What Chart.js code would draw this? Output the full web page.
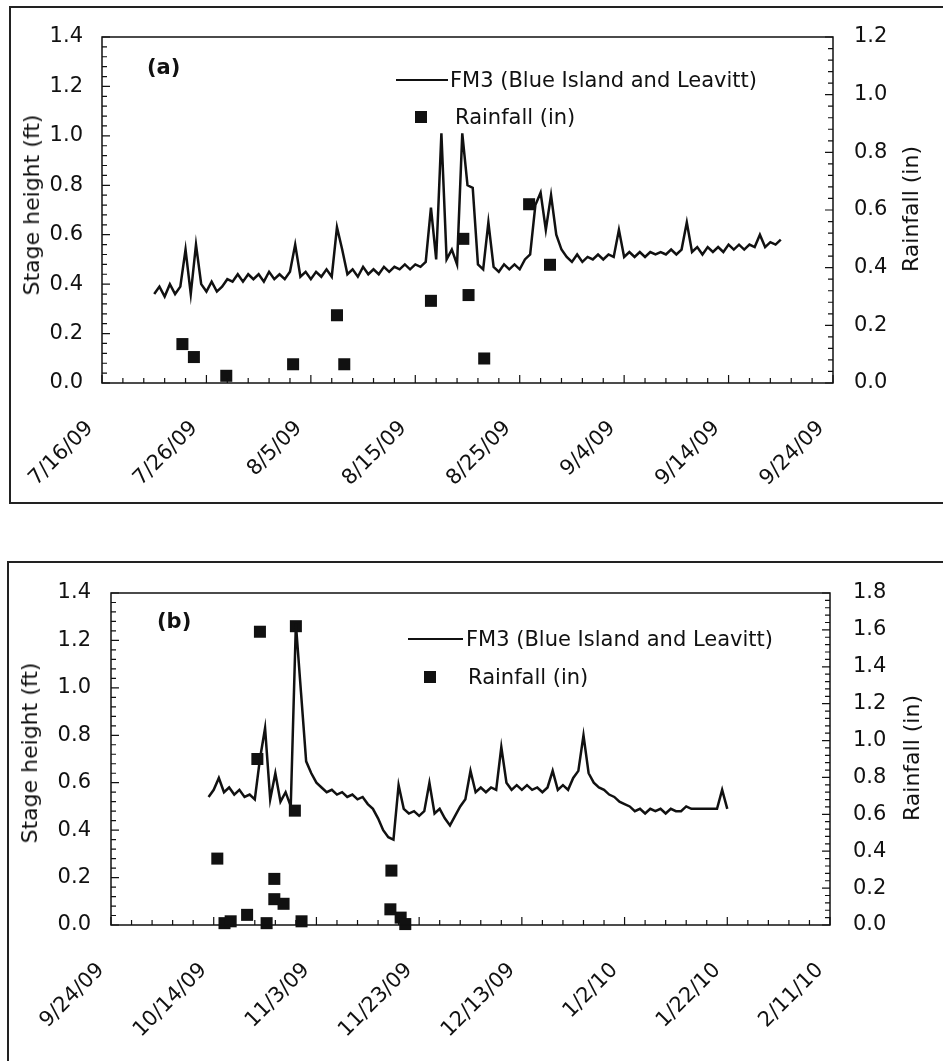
<!DOCTYPE html>
<html>
<head>
<meta charset="utf-8">
<script src="https://cdn.jsdelivr.net/npm/chart.js@4.4.1/dist/chart.umd.min.js"></script>
<style>
  html, body { margin: 0; padding: 0; background: #fff; }
  body { width: 943px; height: 1061px; position: relative; overflow: hidden;
    font-family: "DejaVu Sans", sans-serif; color: #111; }
  canvas { position: absolute; left: 0; }
  .frame { position: absolute; border: 2px solid #222; box-sizing: border-box; }
  .txt { position: absolute; white-space: nowrap; font-size: 21px; line-height: 1; }
  .vtitle { position: absolute; white-space: nowrap; font-size: 22px; line-height: 1;
    transform: translate(-50%, -50%) rotate(-90deg); }
  .tag { position: absolute; font-weight: bold; font-size: 21px; line-height: 1; }
  .lgline { position: absolute; height: 2px; background: #111; }
  .lgsq { position: absolute; width: 12px; height: 12px; background: #111; }
</style>
</head>
<body>
<div class="frame" style="left:9px; top:6px; width:960px; height:498px;"></div>
<div class="frame" style="left:7px; top:561px; width:960px; height:540px;"></div>

<canvas id="chartA" width="943" height="510" style="top:0px;"></canvas>
<canvas id="chartB" width="943" height="541" style="top:520px;"></canvas>

<!-- panel (a) texts -->
<div class="tag" style="left:147px; top:57px;">(a)</div>
<div class="lgline" style="left:396px; top:79px; width:52px;"></div>
<div class="txt" style="left:450px; top:70px;">FM3 (Blue Island and Leavitt)</div>
<div class="lgsq" style="left:415px; top:111px;"></div>
<div class="txt" style="left:455px; top:107px;">Rainfall (in)</div>
<div class="vtitle" style="left:32px; top:205px;">Stage height (ft)</div>
<div class="vtitle" style="left:911px; top:209px;">Rainfall (in)</div>

<!-- panel (b) texts -->
<div class="tag" style="left:157px; top:611px;">(b)</div>
<div class="lgline" style="left:408px; top:638px; width:55px;"></div>
<div class="txt" style="left:466px; top:629px;">FM3 (Blue Island and Leavitt)</div>
<div class="lgsq" style="left:424px; top:671px;"></div>
<div class="txt" style="left:468px; top:667px;">Rainfall (in)</div>
<div class="vtitle" style="left:30px; top:753px;">Stage height (ft)</div>
<div class="vtitle" style="left:912px; top:758px;">Rainfall (in)</div>

<script>
(function() {
  "use strict";

  // ---- panel (a): days counted from 7/16/09 ----
  const tickLabelsA = ["7/16/09", "7/26/09", "8/5/09", "8/15/09", "8/25/09", "9/4/09", "9/14/09", "9/24/09"];
  const stageStartA = 5; // first reading, day offset
  const stageStepA = 0.5; // days between readings
  const stageA = [
    0.36, 0.39, 0.35, 0.40, 0.36, 0.39, 0.54, 0.36, 0.56, 0.40,
    0.37, 0.41, 0.37, 0.39, 0.42, 0.41, 0.44, 0.41, 0.44, 0.42,
    0.44, 0.41, 0.45, 0.42, 0.44, 0.42, 0.45, 0.56, 0.43, 0.45,
    0.42, 0.45, 0.43, 0.46, 0.43, 0.63, 0.54, 0.44, 0.46, 0.43,
    0.47, 0.44, 0.46, 0.44, 0.47, 0.45, 0.47, 0.46, 0.48, 0.46,
    0.48, 0.47, 0.49, 0.71, 0.50, 1.01, 0.50, 0.54, 0.48, 1.01,
    0.80, 0.79, 0.48, 0.46, 0.65, 0.47, 0.45, 0.48, 0.46, 0.48,
    0.46, 0.50, 0.52, 0.72, 0.77, 0.62, 0.76, 0.60, 0.54, 0.51,
    0.49, 0.52, 0.49, 0.51, 0.50, 0.52, 0.50, 0.52, 0.51, 0.62,
    0.51, 0.53, 0.51, 0.53, 0.51, 0.53, 0.52, 0.53, 0.52, 0.54,
    0.52, 0.54, 0.65, 0.53, 0.55, 0.52, 0.55, 0.53, 0.55, 0.53,
    0.56, 0.54, 0.56, 0.54, 0.56, 0.55, 0.60, 0.55, 0.57, 0.56,
    0.58,
  ];
  const rainDayA = [7.7, 8.8, 11.9, 18.3, 22.5, 23.2, 31.5, 34.6, 35.1, 36.6, 40.9, 42.9];
  const rainA = [0.135, 0.09, 0.025, 0.065, 0.235, 0.065, 0.285, 0.50, 0.305, 0.085, 0.62, 0.41];

  // ---- panel (b): days counted from 9/24/09 ----
  const tickLabelsB = ["9/24/09", "10/14/09", "11/3/09", "11/23/09", "12/13/09", "1/2/10", "1/22/10", "2/11/10"];
  const stageStartB = 19;
  const stageStepB = 1;
  const stageB = [
    0.54, 0.57, 0.62, 0.56, 0.58, 0.55, 0.57, 0.54, 0.55, 0.53,
    0.70, 0.83, 0.53, 0.64, 0.52, 0.56, 0.50, 1.27, 0.98, 0.69,
    0.64, 0.60, 0.58, 0.56, 0.57, 0.55, 0.56, 0.54, 0.55, 0.53,
    0.54, 0.51, 0.49, 0.45, 0.40, 0.37, 0.36, 0.59, 0.49, 0.47,
    0.48, 0.46, 0.48, 0.60, 0.47, 0.49, 0.45, 0.42, 0.46, 0.50,
    0.53, 0.65, 0.56, 0.58, 0.56, 0.58, 0.57, 0.75, 0.60, 0.57,
    0.59, 0.57, 0.59, 0.57, 0.58, 0.56, 0.58, 0.65, 0.57, 0.59,
    0.57, 0.62, 0.65, 0.80, 0.64, 0.60, 0.58, 0.57, 0.55, 0.54,
    0.52, 0.51, 0.50, 0.48, 0.49, 0.47, 0.49, 0.48, 0.49, 0.47,
    0.49, 0.48, 0.48, 0.50, 0.49, 0.49, 0.49, 0.49, 0.49, 0.49,
    0.57, 0.49,
  ];
  const rainDayB = [20.7, 22.1, 23.3, 26.5, 28.5, 29.0, 30.3, 31.8, 31.8, 33.6, 35.8, 36.0, 37.1,
    54.4, 54.6, 56.4, 57.3];
  const rainB = [0.36, 0.01, 0.02, 0.055, 0.90, 1.59, 0.01, 0.25, 0.14, 0.115, 0.62, 1.62, 0.02,
    0.085, 0.295, 0.04, 0.005];

  const INK = "#111";
  const FONT = "DejaVu Sans";

  /**
   * Pairs a regularly logged series with its day offsets.
   * @param {number} start
   * @param {number} step
   * @param {number[]} values
   * @return {{x:number, y:number}[]}
   */
  function logged(start, step, values) {
    return values.map((v, i) => ({x: start + i * step, y: v}));
  }

  /**
   * @param {number[]} days
   * @param {number[]} values
   * @return {{x:number, y:number}[]}
   */
  function paired(days, values) {
    return days.map((d, i) => ({x: d, y: values[i]}));
  }

  // plot box and the small inward tick marks
  const frameTicks = {
    id: "frameTicks",
    afterDraw(chart, args, opts) {
      const {ctx, chartArea: a, scales} = chart;
      ctx.save();
      ctx.strokeStyle = INK;
      ctx.lineWidth = 1.5;
      ctx.strokeRect(a.left, a.top, a.right - a.left, a.bottom - a.top);
      ctx.lineWidth = 1.2;
      ctx.beginPath();
      const nx = Math.round(scales.x.max / opts.xMinor);
      for (let k = 0; k <= nx; k++) {
        const x = scales.x.getPixelForValue(k * opts.xMinor);
        const len = k % 5 === 0 ? 8 : 5;
        ctx.moveTo(x, a.bottom);
        ctx.lineTo(x, a.bottom - len);
      }
      const ny = Math.round(scales.y.max / 0.04);
      for (let k = 0; k <= ny; k++) {
        const y = scales.y.getPixelForValue(k * 0.04);
        const len = k % 5 === 0 ? 8 : 5;
        ctx.moveTo(a.left, y);
        ctx.lineTo(a.left + len, y);
      }
      const ny2 = Math.round(scales.y2.max / 0.04);
      for (let k = 0; k <= ny2; k++) {
        const y = scales.y2.getPixelForValue(k * 0.04);
        const len = k % 5 === 0 ? 8 : 5;
        ctx.moveTo(a.right, y);
        ctx.lineTo(a.right - len, y);
      }
      ctx.stroke();
      ctx.restore();
    },
  };

  /**
   * Builds one panel.
   * @param {string} id canvas id
   * @param {Object} p panel settings
   * @return {void}
   */
  function drawPanel(id, p) {
    const tickFont = {family: FONT, size: 21};
    new Chart(document.getElementById(id), {
      type: "line",
      data: {
        datasets: [
          {
            label: "FM3 (Blue Island and Leavitt)",
            data: p.stage,
            borderColor: INK,
            borderWidth: 2.5,
            borderJoinStyle: "miter",
            pointRadius: 0,
            tension: 0,
            yAxisID: "y",
          },
          {
            label: "Rainfall (in)",
            data: p.rain,
            showLine: false,
            pointStyle: "rect",
            pointRadius: 8.5,
            pointBackgroundColor: INK,
            pointBorderWidth: 0,
            clip: false,
            yAxisID: "y2",
          },
        ],
      },
      options: {
        responsive: false,
        animation: false,
        layout: {padding: {top: p.top, left: 0, right: 0, bottom: 0}},
        plugins: {legend: {display: false}, tooltip: {enabled: false}, frameTicks: {xMinor: p.xMinor}},
        scales: {
          x: {
            type: "linear",
            min: 0,
            max: p.xMax,
            afterFit: (s) => {
              s.height = p.xHeight;
            },
            grid: {display: false, drawTicks: false},
            border: {display: false},
            ticks: {
              stepSize: p.xMajor,
              autoSkip: false,
              minRotation: 45,
              maxRotation: 45,
              padding: 33,
              labelOffset: p.labelShift,
              color: INK,
              font: tickFont,
              callback: (v, i) => p.labels[i],
            },
          },
          y: {
            position: "left",
            min: 0,
            max: 1.4,
            afterFit: (s) => {
              s.width = p.left;
            },
            grid: {display: false, drawTicks: false},
            border: {display: false},
            ticks: {stepSize: 0.2, padding: p.leftPad, color: INK, font: tickFont, callback: (v) => v.toFixed(1)},
          },
          y2: {
            position: "right",
            min: 0,
            max: p.rainMax,
            afterFit: (s) => {
              s.width = p.right;
            },
            grid: {display: false, drawTicks: false},
            border: {display: false},
            ticks: {stepSize: 0.2, padding: p.rightPad, color: INK, font: tickFont, callback: (v) => v.toFixed(1)},
          },
        },
      },
      plugins: [frameTicks],
    });
  }

  drawPanel("chartA", {
    stage: logged(stageStartA, stageStepA, stageA),
    rain: paired(rainDayA, rainA),
    labels: tickLabelsA,
    xMax: 70, xMajor: 10, xMinor: 2, rainMax: 1.2,
    top: 37, left: 102, right: 110, xHeight: 127, leftPad: 19, rightPad: 21, labelShift: -12,
  });

  drawPanel("chartB", {
    stage: logged(stageStartB, stageStepB, stageB),
    rain: paired(rainDayB, rainB),
    labels: tickLabelsB,
    xMax: 140, xMajor: 20, xMinor: 4, rainMax: 1.8,
    top: 73, left: 111, right: 113, xHeight: 136, leftPad: 20, rightPad: 23, labelShift: -10,
  });
})();
</script>
</body>
</html>
